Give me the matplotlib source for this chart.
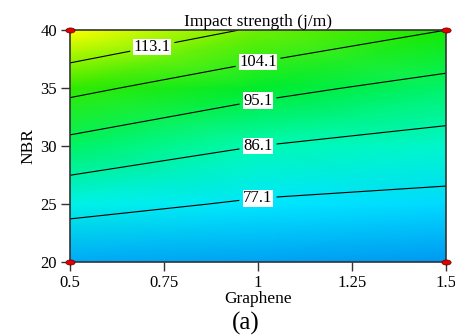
import numpy as np
import matplotlib
matplotlib.use("Agg")
from matplotlib import pyplot as plt
from matplotlib.colors import LinearSegmentedColormap, Normalize

# response surface (impact strength, j/m)
graphene = [0.5, 1.0, 1.5]
nbr = [20, 25, 30, 35, 40]
impact = [
    [69.0, 68.2, 67.4],      # NBR 20
    [79.9, 76.1, 74.5],      # NBR 25
    [92.4, 86.1, 82.9],      # NBR 30
    [106.4, 97.6, 92.0],     # NBR 35
    [121.8, 112.1, 104.1],   # NBR 40
]
levels = [77.1, 86.1, 95.1, 104.1, 113.1]
label_pos = [(0.717, 38.9), (1.0, 37.3), (1.0, 33.95), (1.0, 30.0), (1.0, 25.5)]
design_x = [0.5, 0.5, 1.5, 1.5]
design_y = [20, 40, 20, 40]
xticks = [0.5, 0.75, 1, 1.25, 1.5]
xticklabels = ['0.5', '0.75', '1', '1.25', '1.5']
yticks = [20, 25, 30, 35, 40]

plt.rcParams['font.family'] = ['Liberation Serif', 'DejaVu Serif']

vmin, vmax = 67.0, 122.0
stops = [(67, (0, 150, 240)), (72, (0, 200, 255)), (77, (0, 238, 255)),
         (86, (0, 250, 180)), (95, (0, 240, 70)), (102, (0, 230, 0)),
         (113, (120, 240, 0)), (122, (255, 255, 0))]
cmap = LinearSegmentedColormap.from_list(
    'dx', [((v - vmin) / (vmax - vmin), tuple(c / 255 for c in rgb)) for v, rgb in stops])

fig = plt.figure(figsize=(4.56, 3.35), dpi=100)
ax = fig.add_axes([0.1535, 0.218, 0.824, 0.692])

X, Y = np.meshgrid(graphene, nbr)
Z = np.array(impact)
ax.pcolormesh(X, Y, Z, shading='gouraud', cmap=cmap,
              norm=Normalize(vmin, vmax), rasterized=True)
cs = ax.contour(X, Y, Z, levels=levels, colors='black', linewidths=0.8)
labels = ax.clabel(cs, fmt='%.1f', fontsize=12, inline=True,
                   manual=label_pos, inline_spacing=4)
for t in labels:
    t.set_rotation(0)
    t.set_bbox(dict(facecolor='white', edgecolor='none', pad=0.3))

# flat oval marker for the design points
th = np.linspace(0, 2 * np.pi, 40)
oval = np.column_stack([np.cos(th), 0.55 * np.sin(th)])
ax.scatter(design_x, design_y, s=45, marker=oval, color='#e00000',
           edgecolors='#600000', linewidths=0.5, clip_on=False, zorder=5)

ax.set_xlim(0.5, 1.5)
ax.set_ylim(20, 40)
ax.set_xticks(xticks)
ax.set_xticklabels(xticklabels)
ax.set_yticks(yticks)
ax.tick_params(direction='out', length=6.5, width=1, labelsize=12,
               color='#333333', pad=3)
for s in ax.spines.values():
    s.set_color('#333333')
    s.set_linewidth(1.2)

ax.set_title('Impact strength (j/m)', fontsize=12.5, pad=3)
ax.set_xlabel('Graphene', fontsize=12.5, labelpad=0)
ax.set_ylabel('NBR', fontsize=12.5, labelpad=3)
fig.text(0.54, 0.035, '(a)', fontsize=18, ha='center', va='center')

fig.savefig('out.png', dpi=100)
